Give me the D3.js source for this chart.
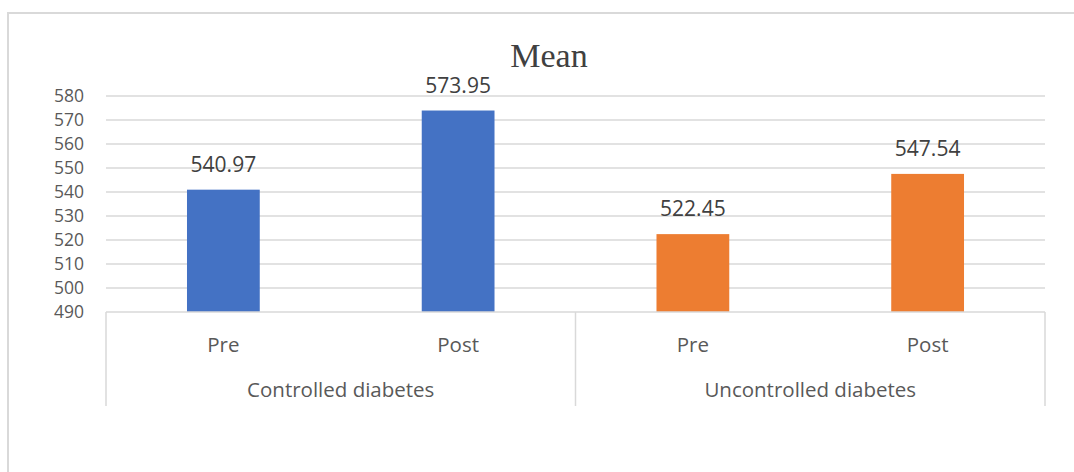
<!DOCTYPE html>
<html>
<head>
<meta charset="utf-8">
<script src="https://cdn.jsdelivr.net/npm/d3@7"></script>
<style>
  html, body { margin: 0; padding: 0; background: #fff; }
  svg { display: block; }
</style>
</head>
<body>
<script>
// Mean scores before/after, by diabetes control group
const groups = ["Controlled diabetes", "Uncontrolled diabetes"];
const phases = ["Pre", "Post"];
const controlledValues = [540.97, 573.95];
const uncontrolledValues = [522.45, 547.54];
const yTicks = [490, 500, 510, 520, 530, 540, 550, 560, 570, 580];
const groupColors = ["#4472C4", "#ED7D31"];

const W = 1074, H = 472;
const margin = { left: 106, right: 1045, top: 96, bottom: 312 };

const svg = d3.select("body").append("svg")
  .attr("width", W).attr("height", H);

// chart frame
svg.append("rect")
  .attr("x", 8).attr("y", 13)
  .attr("width", 1100).attr("height", 500)
  .attr("fill", "#fff")
  .attr("stroke", "#d9d9d9").attr("stroke-width", 2);

const rows = [];
groups.forEach((g, gi) => {
  const vals = gi === 0 ? controlledValues : uncontrolledValues;
  phases.forEach((p, pi) => rows.push({ group: g, gi, phase: p, value: vals[pi], key: g + "|" + p }));
});

const x = d3.scaleBand()
  .domain(rows.map(d => d.key))
  .range([margin.left, margin.right])
  .paddingInner(0.69).paddingOuter(0.345);

const y = d3.scaleLinear()
  .domain([490, 580])
  .range([margin.bottom, margin.top]);

const font = "'Open Sans', 'Noto Sans', sans-serif";

// gridlines
svg.append("g")
  .selectAll("line")
  .data(yTicks.filter(t => t !== 490))
  .join("line")
  .attr("x1", margin.left).attr("x2", margin.right)
  .attr("y1", d => y(d)).attr("y2", d => y(d))
  .attr("stroke", "#d9d9d9").attr("stroke-width", 1.5);

// y axis labels
const yAxis = svg.append("g")
  .attr("transform", `translate(${margin.left - 8},0)`)
  .call(d3.axisLeft(y).tickValues(yTicks).tickSize(0).tickPadding(14));
yAxis.select(".domain").remove();
yAxis.selectAll("text")
  .attr("fill", "#595959")
  .style("font-family", font)
  .style("font-size", "17.5px");

// bars
svg.append("g")
  .selectAll("rect")
  .data(rows)
  .join("rect")
  .attr("x", d => x(d.key))
  .attr("width", x.bandwidth())
  .attr("y", d => y(d.value))
  .attr("height", d => y(490) - y(d.value))
  .attr("fill", d => groupColors[d.gi]);

// value labels
svg.append("g")
  .selectAll("text")
  .data(rows)
  .join("text")
  .attr("x", d => x(d.key) + x.bandwidth() / 2)
  .attr("y", d => y(d.value) - 18)
  .attr("text-anchor", "middle")
  .attr("fill", "#404040")
  .style("font-family", font)
  .style("font-size", "21px")
  .text(d => d.value.toFixed(2));

// category axis: baseline + group separators
const axisColor = "#d9d9d9";
svg.append("line")
  .attr("x1", margin.left).attr("x2", margin.right)
  .attr("y1", y(490)).attr("y2", y(490))
  .attr("stroke", axisColor).attr("stroke-width", 1.5);

const groupEdges = [0, 2, 4].map(i => margin.left + i * (margin.right - margin.left) / 4);
svg.append("g")
  .selectAll("line")
  .data(groupEdges)
  .join("line")
  .attr("x1", d => d).attr("x2", d => d)
  .attr("y1", y(490)).attr("y2", 406)
  .attr("stroke", axisColor).attr("stroke-width", 1.5);

// phase labels
svg.append("g")
  .selectAll("text")
  .data(rows)
  .join("text")
  .attr("x", d => x(d.key) + x.bandwidth() / 2)
  .attr("y", 352)
  .attr("text-anchor", "middle")
  .attr("fill", "#595959")
  .style("font-family", font)
  .style("font-size", "20.5px")
  .text(d => d.phase);

// group labels
svg.append("g")
  .selectAll("text")
  .data(groups)
  .join("text")
  .attr("x", (d, i) => (groupEdges[i] + groupEdges[i + 1]) / 2)
  .attr("y", 397)
  .attr("text-anchor", "middle")
  .attr("fill", "#595959")
  .style("font-family", font)
  .style("font-size", "20.5px")
  .text(d => d);

// title
svg.append("text")
  .attr("x", 549).attr("y", 67)
  .attr("text-anchor", "middle")
  .attr("fill", "#404040")
  .style("font-family", "'Liberation Serif', 'Times New Roman', serif")
  .style("font-size", "34px")
  .text("Mean");
</script>
</body>
</html>
